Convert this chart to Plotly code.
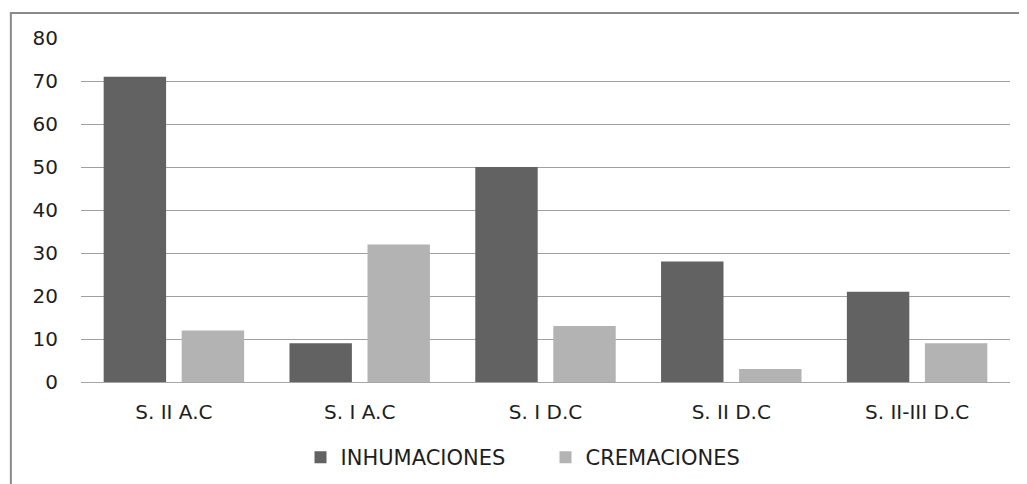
import plotly.graph_objects as go

categories = ["S. II A.C", "S. I A.C", "S. I D.C", "S. II D.C", "S. II-III D.C"]
inhumaciones = [71, 9, 50, 28, 21]
cremaciones = [12, 32, 13, 3, 9]
y_ticks = [0, 10, 20, 30, 40, 50, 60, 70, 80]

fig = go.Figure()
fig.add_trace(go.Bar(name="INHUMACIONES", x=categories, y=inhumaciones,
                     marker=dict(color="#626262", line=dict(width=0))))
fig.add_trace(go.Bar(name="CREMACIONES", x=categories, y=cremaciones,
                     marker=dict(color="#b3b3b3", line=dict(width=0))))

font_family = "DejaVu Sans, sans-serif"
fsize = 20

# page body adds an 8px offset; margins compensate
fig.update_layout(
    width=1027, height=484,
    margin=dict(l=73, r=25, t=30, b=110),
    paper_bgcolor="white", plot_bgcolor="white",
    barmode="group", bargap=0.16, bargroupgap=0.2,
    font=dict(family=font_family, size=fsize, color="#1e1e1e"),
    showlegend=True,
    legend=dict(orientation="h", x=0.5, xanchor="center", y=-0.16, yanchor="top",
                font=dict(family=font_family, size=21, color="#1e1e1e"),
                entrywidth=200, entrywidthmode="pixels",
                traceorder="normal"),
    xaxis=dict(showgrid=False, showline=True, linecolor="#a6a6a6", linewidth=1,
               ticks="", ticklabelstandoff=12, tickfont=dict(size=fsize)),
    yaxis=dict(range=[0, 80], tickvals=y_ticks, showgrid=True, gridcolor="#a0a0a0",
               gridwidth=1, zeroline=False, showline=False, ticks="",
               ticklabelstandoff=22, tickfont=dict(size=fsize)),
    shapes=[dict(type="rect", xref="paper", yref="paper",
                 x0=-0.0755, x1=1.05, y0=-0.35, y1=1.073,
                 line=dict(color="#8a8a8a", width=2), fillcolor="rgba(0,0,0,0)",
                 layer="below")],
)

fig.write_html("out.html")
